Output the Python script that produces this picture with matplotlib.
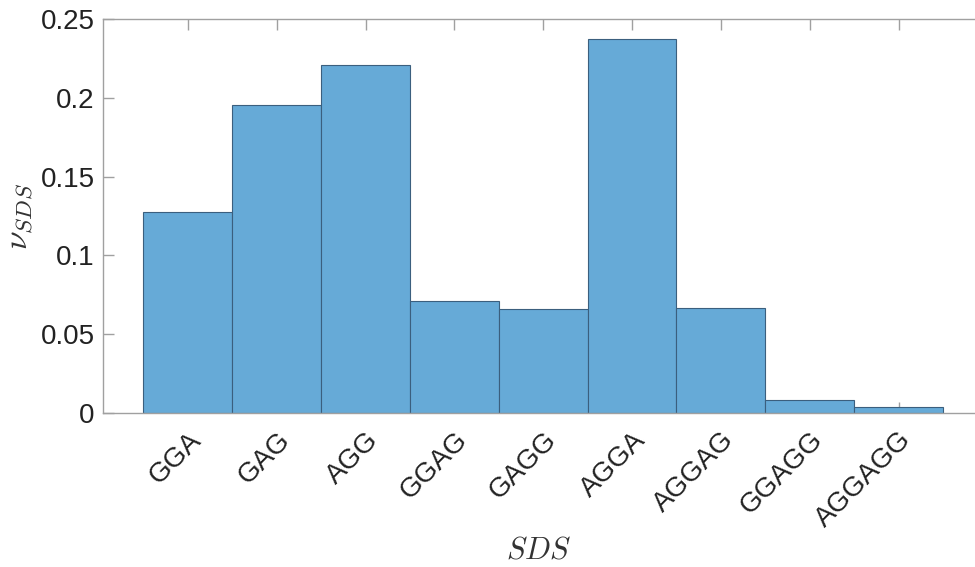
import matplotlib
matplotlib.use("Agg")
import matplotlib.pyplot as plt

# sequence labels and frequencies
sds_labels = ["GGA", "GAG", "AGG", "GGAG", "GAGG", "AGGA", "AGGAG", "GGAGG", "AGGAGG"]
nu_sds = [0.1275, 0.1954, 0.2210, 0.0711, 0.0662, 0.2373, 0.0666, 0.0083, 0.0040]
y_ticks = [0, 0.05, 0.1, 0.15, 0.2, 0.25]
y_tick_labels = ["0", "0.05", "0.1", "0.15", "0.2", "0.25"]

plt.rcParams["font.family"] = ["Liberation Sans", "DejaVu Sans"]
plt.rcParams["mathtext.fontset"] = "cm"

fig = plt.figure(figsize=(9.75, 5.67), dpi=100)
ax = fig.add_axes([103 / 975, 1 - 413 / 567, 1 - 103 / 975, (413 - 19) / 567])

pos = list(range(1, len(sds_labels) + 1))
ax.bar(pos, nu_sds, width=1.0, color="#66AAD7", edgecolor="#3B5F7E", linewidth=0.8, zorder=2)

ax.set_xlim(0.045, 9.86)
ax.set_ylim(0, 0.25)
ax.set_xticks(pos)
ax.set_xticklabels(sds_labels, rotation=45, ha="right", rotation_mode="anchor", fontsize=20)
ax.set_yticks(y_ticks)
ax.set_yticklabels(y_tick_labels, fontsize=20)

for side in ["left", "bottom", "top"]:
    ax.spines[side].set_color("#A0A0A0")
    ax.spines[side].set_linewidth(1.0)
ax.spines["right"].set_visible(False)
ax.tick_params(axis="both", direction="in", length=8, color="#A0A0A0", width=1.0,
               labelcolor="#222222")
ax.tick_params(axis="x", top=True, pad=10)
ax.tick_params(axis="y", pad=6)

ax.set_xlabel(r"$SDS$", fontsize=22, color="#333333", labelpad=2)
ax.set_ylabel(r"$\nu_{SDS}$", fontsize=24, color="#333333", labelpad=4)

fig.savefig("out.png", dpi=100)
